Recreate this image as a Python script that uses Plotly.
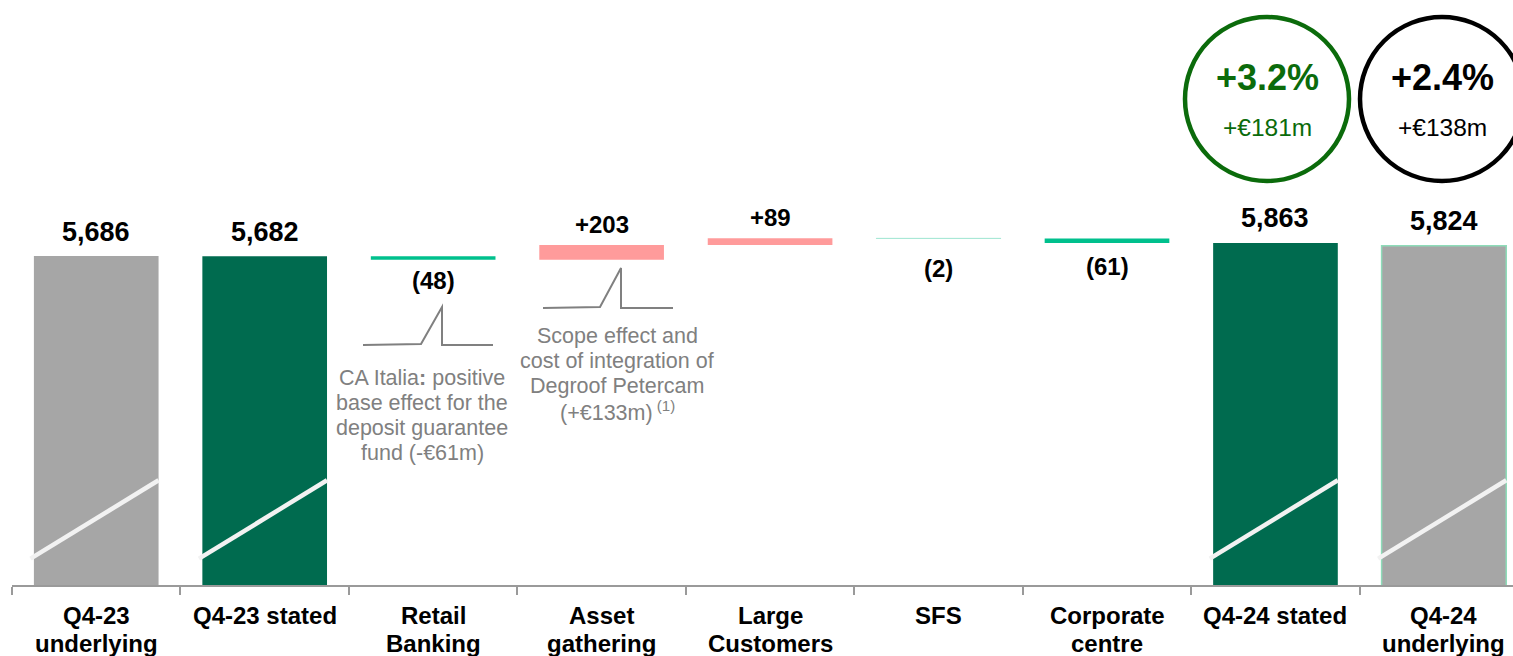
import plotly.graph_objects as go

# ---- data -------------------------------------------------------------
categories = [
    "Q4-23<br>underlying", "Q4-23 stated", "Retail<br>Banking", "Asset<br>gathering",
    "Large<br>Customers", "SFS", "Corporate<br>centre", "Q4-24 stated", "Q4-24<br>underlying",
]
kinds = ["underlying", "stated", "delta", "delta", "delta", "delta", "delta", "stated", "underlying"]
values = [5686, 5682, -48, 203, 89, -2, -61, 5863, 5824]

stated_growth = ["+3.2%", "+€181m"]
underlying_growth = ["+2.4%", "+€138m"]

note_retail = ["CA Italia<b>:</b> positive", "base effect for the", "deposit guarantee", "fund (-€61m)"]
note_asset = ["Scope effect and", "cost of integration of", "Degroof Petercam", "(+€133m)<sup> (1)</sup>"]

# ---- styling ----------------------------------------------------------
FONT = "Arial, Liberation Sans, sans-serif"
GREY_BAR = "#a6a6a6"
GREEN_BAR = "#006b4f"
UP = "#ff9b9b"
DOWN = "#00c08d"
NOTE_GREY = "#808080"
CIRCLE_GREEN = "#0b6b0b"

W, H = 1513, 656
ML, MB = 12, 71
plot_w, plot_h = W - ML, H - MB

# y axis starts well above zero (broken axis)
Y0, Y1 = 1206.5, 9171.0

# ---- waterfall geometry from the values ----------------------------------
bases, heights, colors, labels = [], [], [], []
level = None
for k, v in zip(kinds, values):
    if k == "delta":
        bases.append(level)
        heights.append(v)
        colors.append(UP if v > 0 else DOWN)
        labels.append(f"+{v:,}" if v > 0 else f"({abs(v):,})")
        level += v
    else:
        bases.append(0)
        heights.append(v)
        colors.append(GREY_BAR if k == "underlying" else GREEN_BAR)
        labels.append(f"{v:,}")
        level = v

line_w = [0, 0, 0, 0, 0, 1, 0, 0, 1.5]
line_c = [DOWN, DOWN, DOWN, DOWN, DOWN, "#a9e8d6", DOWN, DOWN, "#8edcb9"]

fig = go.Figure(
    go.Bar(
        x=categories,
        y=heights,
        base=bases,
        width=0.74,
        marker=dict(color=colors, line=dict(width=line_w, color=line_c)),
        hoverinfo="skip",
    )
)


def px_x(p):
    return (p - ML) / plot_w


def px_y(p):
    return (plot_h - p) / plot_h


annotations = []

# value labels
label_shift = [7, 7, -5, 5, 5, -14, -8, 8, 8]
for i, (k, v, b, txt) in enumerate(zip(kinds, values, bases, labels)):
    top = b + v
    below = k == "delta" and v < 0
    annotations.append(dict(
        x=i, y=top, xref="x", yref="y", text=f"<b>{txt}</b>", showarrow=False,
        yanchor="top" if below else "bottom", yshift=label_shift[i],
        font=dict(family=FONT, size=27 if k != "delta" else 24, color="#000000"),
    ))

# category labels, one annotation per line
for i, cat in enumerate(categories):
    for j, line in enumerate(cat.split("<br>")):
        annotations.append(dict(
            x=i, y=px_y(615 + 28 * j), xref="x", yref="paper", text=f"<b>{line}</b>",
            showarrow=False, xanchor="center", yanchor="middle",
            font=dict(family=FONT, size=24, color="#000000"),
        ))

# explanatory notes
for lines, cx, y_first in [(note_retail, 422, 378), (note_asset, 617, 336)]:
    for j, line in enumerate(lines):
        annotations.append(dict(
            x=px_x(cx), y=px_y(y_first + 25 * j), xref="paper", yref="paper", text=line,
            showarrow=False, xanchor="center", yanchor="middle",
            font=dict(family=FONT, size=21.5, color=NOTE_GREY),
        ))

# growth bubbles
for cx, (pct, amt), col in [(1267, stated_growth, CIRCLE_GREEN), (1442, underlying_growth, "#000000")]:
    annotations.append(dict(
        x=px_x(cx), y=px_y(78), xref="paper", yref="paper", text=f"<b>{pct}</b>",
        showarrow=False, xanchor="center", yanchor="middle",
        font=dict(family=FONT, size=36, color=col),
    ))
    annotations.append(dict(
        x=px_x(cx), y=px_y(127), xref="paper", yref="paper", text=amt,
        showarrow=False, xanchor="center", yanchor="middle",
        font=dict(family=FONT, size=24.5, color=col),
    ))

shapes = []
for cx, col in [(1267, CIRCLE_GREEN), (1442, "#000000")]:
    shapes.append(dict(
        type="circle", xref="paper", yref="paper", xsizemode="pixel", ysizemode="pixel",
        xanchor=px_x(cx), yanchor=px_y(99), x0=-82, x1=82, y0=-82, y1=82,
        line=dict(color=col, width=4.5),
    ))


def bracket(pts):
    d = "M " + " L ".join(f"{px_x(x):.5f},{px_y(y):.5f}" for x, y in pts)
    return dict(type="path", xref="paper", yref="paper", path=d,
                line=dict(color=NOTE_GREY, width=2))


shapes.append(bracket([(363, 345), (421, 344), (442, 307), (442, 345), (493, 345)]))
shapes.append(bracket([(543, 308), (600, 307), (621, 268), (621, 308), (673, 308)]))

# axis-break slashes across the full bars
for i, k in enumerate(kinds):
    if k != "delta":
        shapes.append(dict(
            type="line", xref="x", yref="paper",
            x0=i - 0.39, x1=i + 0.37, y0=0.045, y1=0.179,
            line=dict(color="#f2f2f2", width=4.5),
        ))

fig.update_layout(
    width=W, height=H,
    margin=dict(l=ML, r=0, t=0, b=MB),
    paper_bgcolor="white", plot_bgcolor="white",
    showlegend=False,
    bargap=0.26,
    annotations=annotations,
    shapes=shapes,
    xaxis=dict(
        type="category", range=[-0.5, 8.41], tickson="boundaries",
        ticks="outside", ticklen=8, tickcolor="#9a9a9a", tickwidth=1.5,
        showline=True, linecolor="#9a9a9a", linewidth=1.5,
        showgrid=False, zeroline=False, showticklabels=False,
    ),
    yaxis=dict(range=[Y0, Y1], visible=False, showgrid=False, zeroline=False),
)

fig.write_html("out.html")
